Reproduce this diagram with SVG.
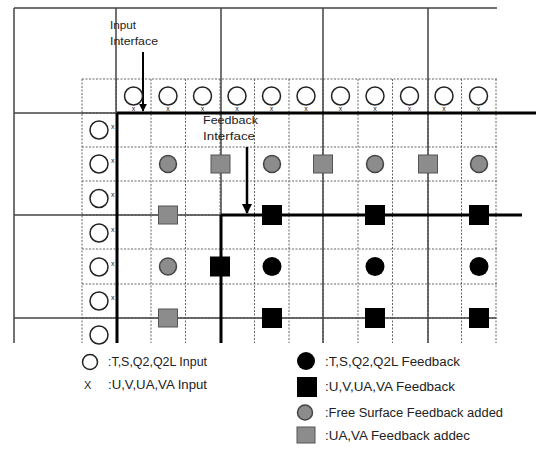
<svg xmlns="http://www.w3.org/2000/svg" width="536" height="450" viewBox="0 0 536 450">
<style>
.dot{stroke:#666;stroke-width:1;stroke-dasharray:2 1.5;fill:none}
.thin{stroke:#444;stroke-width:1.5;fill:none}
.thick{stroke:#000;stroke-width:3;fill:none}
.oc{fill:#fff;stroke:#222;stroke-width:1.5}
.gc{fill:#8c8c8c;stroke:#444;stroke-width:1.5}
.gs{fill:#8c8c8c;stroke:#555;stroke-width:1}
.bs{fill:#000}
.bc{fill:#000}
text{font-family:"Liberation Sans",Arial,sans-serif;fill:#222}
.lg{font-size:12px}
.lb{font-size:11px}
.xm{font-size:7px}
</style>
<defs>
<marker id="ah" viewBox="0 0 10 10" refX="9" refY="5" markerWidth="4" markerHeight="4" orient="auto"><path d="M0,0 L10,5 L0,10 z" fill="#000"/></marker>
</defs>
<rect width="536" height="450" fill="#fff"/>
<g id="grid">
<path class="dot" d="M82,79V343 M151,79V343 M185.5,79V343 M254.5,79V343 M289,79V343 M358,79V343 M392.5,79V343 M461.5,79V343 M496,79V343 M116.5,79V113 M220,79V215 M323,79V343 M428,79V343"/>
<path class="dot" d="M82,79H497 M82,147H497 M82,181H497 M82,249H497 M82,284H497 M82,113H117 M82,215H221 M82,318H497"/>
</g>
<g id="connectors">
<path class="thin" d="M14,8H497 M14,8V343 M14,113H117 M116,8V113 M221,8V215 M323,8V343 M428,8V343 M14,215H221 M14,318H496"/>
<path class="thick" d="M117,113H536 M117,113V343 M221,215H522 M221,215V343"/>
<line x1="143" y1="52" x2="143" y2="111" stroke="#000" stroke-width="2" marker-end="url(#ah)"/>
<line x1="247" y1="147" x2="247" y2="213" stroke="#000" stroke-width="2.5" marker-end="url(#ah)"/>
</g>
<g id="input-row">
<circle class="oc" cx="133.5" cy="96" r="9"/><circle class="oc" cx="168" cy="96" r="9"/><circle class="oc" cx="202.5" cy="96" r="9"/><circle class="oc" cx="237" cy="96" r="9"/><circle class="oc" cx="271.5" cy="96" r="9"/><circle class="oc" cx="306" cy="96" r="9"/><circle class="oc" cx="340.5" cy="96" r="9"/><circle class="oc" cx="375" cy="96" r="9"/><circle class="oc" cx="409.5" cy="96" r="9"/><circle class="oc" cx="444" cy="96" r="9"/><circle class="oc" cx="478.5" cy="96" r="9"/>
<g class="xm" text-anchor="middle">
<text x="133.5" y="111">x</text><text x="168" y="111">x</text><text x="202.5" y="111">x</text><text x="237" y="111">x</text><text x="271.5" y="111">x</text><text x="306" y="111">x</text><text x="340.5" y="111">x</text><text x="375" y="111">x</text><text x="409.5" y="111">x</text><text x="444" y="111">x</text><text x="478.5" y="111">x</text>
</g>
</g>
<g id="input-col">
<circle class="oc" cx="99" cy="130" r="9"/><circle class="oc" cx="99" cy="164" r="9"/><circle class="oc" cx="99" cy="198.5" r="9"/><circle class="oc" cx="99" cy="233" r="9"/><circle class="oc" cx="99" cy="267" r="9"/><circle class="oc" cx="99" cy="301" r="9"/><circle class="oc" cx="99" cy="335" r="9"/>
<g class="xm">
<text x="111" y="129">x</text><text x="111" y="163">x</text><text x="111" y="197">x</text><text x="111" y="232">x</text><text x="111" y="266">x</text><text x="111" y="300">x</text>
</g>
</g>
<g id="added">
<circle class="gc" cx="168" cy="164" r="8.5"/><circle class="gc" cx="272" cy="164" r="8.5"/><circle class="gc" cx="375" cy="164" r="8.5"/><circle class="gc" cx="479" cy="164" r="8.5"/>
<circle class="gc" cx="168" cy="266.5" r="8.5"/>
<rect class="gs" x="211" y="155" width="19" height="18"/><rect class="gs" x="313.5" y="155" width="19" height="18"/><rect class="gs" x="418.5" y="155" width="19" height="18"/>
<rect class="gs" x="158.5" y="206" width="19" height="18"/><rect class="gs" x="158.5" y="309" width="19" height="18"/>
</g>
<g id="feedback">
<rect class="bs" x="262" y="205" width="20" height="20"/><rect class="bs" x="365" y="205" width="20" height="20"/><rect class="bs" x="469" y="205" width="20" height="20"/>
<rect class="bs" x="210" y="256.5" width="20" height="20"/>
<circle class="bc" cx="272" cy="266.5" r="9.5"/><circle class="bc" cx="375" cy="266.5" r="9.5"/><circle class="bc" cx="479" cy="266.5" r="9.5"/>
<rect class="bs" x="262" y="308" width="20" height="20"/><rect class="bs" x="365" y="308" width="20" height="20"/><rect class="bs" x="469" y="308" width="20" height="20"/>
</g>
<g id="labels" class="lb">
<text x="110" y="29" textLength="26" lengthAdjust="spacingAndGlyphs">Input</text>
<text x="110" y="45" textLength="48" lengthAdjust="spacingAndGlyphs">Interface</text>
<text x="203" y="124" textLength="55" lengthAdjust="spacingAndGlyphs">Feedback</text>
<text x="203" y="140" textLength="52" lengthAdjust="spacingAndGlyphs">Interface</text>
</g>
<g id="legend" class="lg">
<circle class="oc" cx="90" cy="362" r="7.5"/>
<text x="108" y="366" textLength="99" lengthAdjust="spacingAndGlyphs">:T,S,Q2,Q2L  Input</text>
<text x="84" y="389" font-size="11">X</text>
<text x="108" y="389" textLength="99" lengthAdjust="spacingAndGlyphs">:U,V,UA,VA Input</text>
<circle class="bc" cx="306" cy="361" r="9"/>
<text x="325" y="366" textLength="135" lengthAdjust="spacingAndGlyphs">:T,S,Q2,Q2L  Feedback</text>
<rect class="bs" x="297" y="377" width="20" height="20"/>
<text x="325" y="391" textLength="130" lengthAdjust="spacingAndGlyphs">:U,V,UA,VA  Feedback</text>
<circle class="gc" cx="305" cy="412.5" r="7.5"/>
<text x="325" y="417" textLength="178" lengthAdjust="spacingAndGlyphs">:Free Surface  Feedback added</text>
<rect class="gs" x="297" y="427" width="18" height="16"/>
<text x="325" y="440" textLength="145" lengthAdjust="spacingAndGlyphs">:UA,VA  Feedback addec</text>
</g>
</svg>
